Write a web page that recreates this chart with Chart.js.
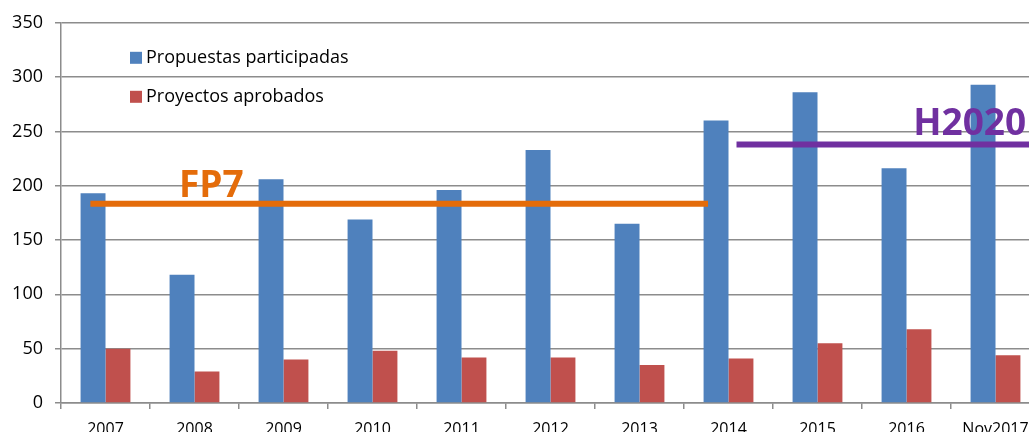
<!DOCTYPE html>
<html>
<head>
<meta charset="utf-8">
<script src="https://cdn.jsdelivr.net/npm/chart.js@4"></script>
<style>
  html, body { margin: 0; padding: 0; background: #fff; overflow: hidden; }
  #wrap { width: 1046px; height: 450px; }
</style>
</head>
<body>
<div id="wrap"><canvas id="propChart" width="1046" height="450"></canvas></div>
<script>
// categories and series
const years = ['2007', '2008', '2009', '2010', '2011', '2012', '2013', '2014', '2015', '2016', 'Nov2017'];
const propuestas = [193, 118, 206, 169, 196, 233, 165, 260, 286, 216, 293];
const proyectos = [50, 29, 40, 48, 42, 42, 35, 41, 55, 68, 44];
const yTicks = [0, 50, 100, 150, 200, 250, 300, 350];

// programme average lines (x in category index units, y in data units)
const programmeLines = [
    { text: 'FP7', from: -0.17, to: 6.77, value: 183.5, color: '#E46C0A', textX: 1.19, textY: 190 },
    { text: 'H2020', from: 7.09, to: 10.7, value: 238, color: '#7030A0', textX: 9.71, textY: 247 }
];

const FONT = '"Open Sans", "Liberation Sans", sans-serif';
const GRID = '#8c8c8c';

// legend drawn inside the plot area, top left
const innerLegend = {
    id: 'innerLegend',
    afterDraw(chart) {
        const ctx = chart.ctx;
        const area = chart.chartArea;
        ctx.save();
        ctx.font = '18px ' + FONT;
        ctx.textBaseline = 'middle';
        ctx.textAlign = 'left';
        chart.data.datasets.forEach((ds, row) => {
            const y = area.top + 35 + row * 39;
            ctx.fillStyle = ds.backgroundColor;
            ctx.fillRect(area.left + 69, y - 6, 12, 12);
            ctx.fillStyle = '#000';
            ctx.fillText(ds.label, area.left + 85, y);
        });
        ctx.restore();
    }
};

// FP7 / H2020 lines and captions, placed through the chart scales
const programmes = {
    id: 'programmes',
    afterDatasetsDraw(chart) {
        const ctx = chart.ctx;
        const xs = chart.scales.x;
        const ys = chart.scales.y;
        const area = chart.chartArea;
        ctx.save();
        ctx.beginPath();
        ctx.rect(area.left, area.top, area.right - area.left, area.bottom - area.top);
        ctx.clip();
        programmeLines.forEach(p => {
            const y = ys.getPixelForValue(p.value);
            ctx.strokeStyle = p.color;
            ctx.lineWidth = 6;
            ctx.beginPath();
            ctx.moveTo(xs.getPixelForValue(p.from), y);
            ctx.lineTo(xs.getPixelForValue(p.to), y);
            ctx.stroke();
        });
        ctx.restore();

        ctx.save();
        ctx.font = 'bold 37px ' + FONT;
        ctx.textAlign = 'center';
        ctx.textBaseline = 'alphabetic';
        programmeLines.forEach(p => {
            ctx.fillStyle = p.color;
            ctx.fillText(p.text, xs.getPixelForValue(p.textX), ys.getPixelForValue(p.textY));
        });
        ctx.restore();
    }
};

const ctx = document.getElementById('propChart').getContext('2d');

const propChart = new Chart(ctx, {
    type: 'bar',
    data: {
        labels: years,
        datasets: [
            {
                label: 'Propuestas participadas',
                data: propuestas,
                backgroundColor: '#4F81BD'
            },
            {
                label: 'Proyectos aprobados',
                data: proyectos,
                backgroundColor: '#C0504D'
            }
        ]
    },
    options: {
        responsive: false,
        animation: false,
        categoryPercentage: 0.56,
        barPercentage: 1,
        layout: { padding: { top: 22, right: 6, left: 0, bottom: 0 } },
        plugins: {
            legend: { display: false },
            tooltip: { enabled: false }
        },
        scales: {
            x: {
                grid: {
                    drawOnChartArea: false,
                    drawTicks: true,
                    tickLength: 6,
                    color: GRID,
                    lineWidth: 1.5
                },
                border: { color: GRID, width: 1.5 },
                ticks: {
                    color: '#000',
                    font: { family: FONT, size: 16 },
                    padding: 11,
                    maxRotation: 0,
                    autoSkip: false
                },
                afterFit(scale) { scale.height = 47; }
            },
            y: {
                min: 0,
                max: 350,
                afterBuildTicks(scale) {
                    scale.ticks = yTicks.map(v => ({ value: v }));
                },
                grid: {
                    color: GRID,
                    lineWidth: 1.5,
                    tickLength: 6
                },
                border: { color: GRID, width: 1.5 },
                ticks: {
                    color: '#000',
                    font: { family: FONT, size: 18 },
                    padding: 12
                },
                afterFit(scale) { scale.width = 61; }
            }
        }
    },
    plugins: [innerLegend, programmes]
});
</script>
</body>
</html>
